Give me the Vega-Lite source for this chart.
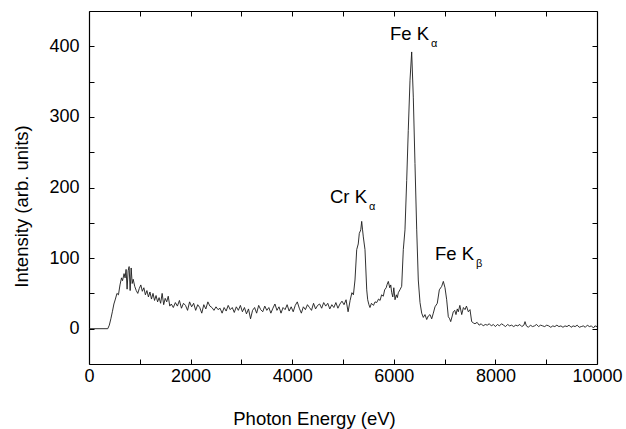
{
  "$schema": "https://vega.github.io/schema/vega-lite/v6.json",
  "width": 508,
  "height": 353,
  "autosize": {"type": "none"},
  "padding": {"left": 89, "top": 11, "right": 29, "bottom": 65},
  "background": "white",
  "config": {
    "view": {"stroke": null},
    "font": "Liberation Sans",
    "axis": {
      "domainColor": "black", "domainWidth": 1.2, "tickColor": "black", "tickWidth": 1,
      "grid": false, "labelFont": "Liberation Sans", "labelFontSize": 18, "labelColor": "black",
      "titleFont": "Liberation Sans", "titleFontSize": 18.5, "titleFontWeight": "normal", "titleColor": "black",
      "labelFlush": false, "labelOverlap": false
    }
  },
  "datasets": {
    "spec": [
      {"e":0,"i":0},{"e":370,"i":0},{"e":400,"i":5},{"e":430,"i":14},{"e":460,"i":24},{"e":490,"i":35},{"e":520,"i":42},{"e":550,"i":50},{"e":580,"i":48},{"e":610,"i":62},{"e":640,"i":72},{"e":660,"i":68},{"e":690,"i":78},{"e":710,"i":72},{"e":730,"i":84},{"e":750,"i":56},{"e":770,"i":82},{"e":790,"i":88},{"e":810,"i":54},{"e":830,"i":86},{"e":850,"i":64},{"e":870,"i":70},{"e":900,"i":60},{"e":930,"i":54},{"e":960,"i":50},{"e":990,"i":57},{"e":1020,"i":62},{"e":1050,"i":53},{"e":1080,"i":58},{"e":1110,"i":48},{"e":1140,"i":54},{"e":1170,"i":45},{"e":1200,"i":52},{"e":1230,"i":42},{"e":1260,"i":50},{"e":1290,"i":40},{"e":1320,"i":47},{"e":1350,"i":38},{"e":1380,"i":44},{"e":1410,"i":36},{"e":1440,"i":50},{"e":1470,"i":34},{"e":1500,"i":43},{"e":1530,"i":38},{"e":1560,"i":46},{"e":1590,"i":32},{"e":1620,"i":35},{"e":1660,"i":30},{"e":1700,"i":37},{"e":1740,"i":32},{"e":1780,"i":40},{"e":1820,"i":29},{"e":1860,"i":36},{"e":1900,"i":33},{"e":1940,"i":26},{"e":1980,"i":38},
      {"e":2020,"i":31},{"e":2060,"i":36},{"e":2100,"i":26},{"e":2140,"i":34},{"e":2180,"i":30},{"e":2220,"i":22},{"e":2260,"i":34},{"e":2300,"i":28},{"e":2340,"i":38},{"e":2380,"i":32},{"e":2420,"i":30},{"e":2460,"i":26},{"e":2500,"i":31},{"e":2540,"i":27},{"e":2580,"i":29},{"e":2620,"i":22},{"e":2660,"i":30},{"e":2700,"i":25},{"e":2740,"i":33},{"e":2780,"i":27},{"e":2820,"i":30},{"e":2860,"i":23},{"e":2900,"i":31},{"e":2940,"i":26},{"e":2980,"i":33},{"e":3020,"i":24},{"e":3060,"i":30},{"e":3100,"i":21},{"e":3140,"i":28},{"e":3180,"i":14},{"e":3220,"i":26},{"e":3260,"i":30},{"e":3300,"i":22},{"e":3340,"i":33},{"e":3380,"i":27},{"e":3420,"i":24},{"e":3460,"i":32},{"e":3500,"i":26},{"e":3540,"i":30},{"e":3580,"i":22},{"e":3620,"i":29},{"e":3660,"i":35},{"e":3700,"i":26},{"e":3740,"i":31},{"e":3780,"i":22},{"e":3820,"i":30},{"e":3860,"i":27},{"e":3900,"i":34},{"e":3940,"i":25},{"e":3980,"i":31},
      {"e":4020,"i":24},{"e":4060,"i":33},{"e":4100,"i":38},{"e":4140,"i":29},{"e":4180,"i":22},{"e":4220,"i":31},{"e":4260,"i":27},{"e":4300,"i":34},{"e":4340,"i":30},{"e":4380,"i":26},{"e":4420,"i":36},{"e":4460,"i":28},{"e":4500,"i":33},{"e":4540,"i":35},{"e":4580,"i":29},{"e":4620,"i":37},{"e":4660,"i":32},{"e":4700,"i":36},{"e":4740,"i":28},{"e":4780,"i":34},{"e":4820,"i":30},{"e":4860,"i":37},{"e":4900,"i":29},{"e":4940,"i":35},{"e":4980,"i":39},{"e":5020,"i":34},{"e":5060,"i":41},{"e":5100,"i":24},{"e":5140,"i":40},{"e":5175,"i":51},{"e":5205,"i":48},{"e":5236,"i":69},{"e":5270,"i":112},{"e":5300,"i":120},{"e":5321,"i":135},{"e":5350,"i":140},{"e":5368,"i":152},{"e":5385,"i":140},{"e":5400,"i":130},{"e":5433,"i":112},{"e":5467,"i":55},{"e":5486,"i":41},{"e":5510,"i":34},{"e":5531,"i":30},{"e":5560,"i":36},{"e":5600,"i":33},{"e":5630,"i":38},{"e":5663,"i":37},{"e":5700,"i":42},{"e":5730,"i":40},{"e":5760,"i":48},{"e":5793,"i":46},{"e":5820,"i":55},{"e":5850,"i":58},{"e":5870,"i":63},{"e":5892,"i":67},{"e":5920,"i":58},{"e":5940,"i":62},{"e":5959,"i":51},{"e":5980,"i":45},{"e":6000,"i":58},{"e":6024,"i":41},{"e":6050,"i":48},{"e":6070,"i":44},{"e":6089,"i":51},{"e":6120,"i":55},{"e":6155,"i":60},{"e":6187,"i":112},{"e":6220,"i":140},{"e":6254,"i":210},{"e":6285,"i":281},{"e":6319,"i":352},{"e":6352,"i":392},{"e":6384,"i":328},{"e":6417,"i":234},{"e":6451,"i":140},{"e":6482,"i":69},{"e":6516,"i":37},{"e":6549,"i":22},{"e":6581,"i":16},{"e":6614,"i":20},{"e":6648,"i":13},{"e":6679,"i":18},{"e":6713,"i":20},{"e":6746,"i":14},{"e":6778,"i":22},{"e":6811,"i":31},{"e":6856,"i":36},{"e":6896,"i":55},{"e":6943,"i":60},{"e":6975,"i":67},{"e":7008,"i":58},{"e":7041,"i":41},{"e":7073,"i":17},{"e":7100,"i":14},{"e":7120,"i":10},{"e":7150,"i":18},{"e":7171,"i":24},{"e":7200,"i":26},{"e":7224,"i":20},{"e":7250,"i":28},{"e":7270,"i":24},{"e":7300,"i":33},{"e":7337,"i":20},{"e":7370,"i":30},{"e":7402,"i":27},{"e":7430,"i":32},{"e":7467,"i":24},{"e":7500,"i":27},{"e":7533,"i":10},{"e":7570,"i":8},{"e":7598,"i":7},{"e":7640,"i":9},{"e":7680,"i":5},{"e":7720,"i":7},{"e":7760,"i":4},{"e":7800,"i":6},{"e":7840,"i":5},{"e":7880,"i":7},{"e":7920,"i":4},{"e":7960,"i":6},{"e":8000,"i":3},{"e":8040,"i":6},{"e":8080,"i":4},{"e":8120,"i":7},{"e":8160,"i":5},{"e":8200,"i":3},{"e":8240,"i":6},{"e":8280,"i":4},{"e":8320,"i":5},{"e":8360,"i":3},{"e":8400,"i":5},{"e":8440,"i":4},{"e":8480,"i":6},{"e":8520,"i":3},{"e":8560,"i":5},{"e":8583,"i":10},{"e":8610,"i":4},{"e":8650,"i":2},{"e":8690,"i":5},{"e":8730,"i":3},{"e":8770,"i":4},{"e":8810,"i":6},{"e":8850,"i":3},{"e":8890,"i":5},{"e":8930,"i":4},{"e":8970,"i":3},{"e":9010,"i":5},{"e":9050,"i":4},{"e":9090,"i":2},{"e":9130,"i":4},{"e":9170,"i":3},{"e":9210,"i":5},{"e":9250,"i":3},{"e":9290,"i":4},{"e":9330,"i":2},{"e":9370,"i":4},{"e":9410,"i":3},{"e":9450,"i":5},{"e":9490,"i":2},{"e":9530,"i":4},{"e":9570,"i":3},{"e":9610,"i":5},{"e":9650,"i":2},{"e":9690,"i":3},{"e":9730,"i":4},{"e":9770,"i":2},{"e":9810,"i":5},{"e":9850,"i":3},{"e":9890,"i":4},{"e":9930,"i":1},{"e":9960,"i":4},{"e":10000,"i":3}
    ],
    "notes": [
      {"t":"Fe K","e":5925,"v":409,"s":"main"},
      {"t":"α","e":6732,"v":399,"s":"sub"},
      {"t":"Cr K","e":4744,"v":178,"s":"main"},
      {"t":"α","e":5512,"v":168,"s":"sub"},
      {"t":"Fe K","e":6811,"v":97,"s":"main"},
      {"t":"β","e":7618,"v":87,"s":"sub"}
    ]
  },
  "layer": [
    {
      "data": {"name": "spec"},
      "mark": {"type": "line", "color": "#1a1a1a", "strokeWidth": 0.9, "clip": true},
      "encoding": {
        "x": {"field": "e", "type": "quantitative", "scale": {"domain": [0, 10000], "nice": false, "zero": false},
          "axis": {"orient": "bottom", "values": [0,1000,2000,3000,4000,5000,6000,7000,8000,9000,10000], "format": "d",
            "labelExpr": "datum.value % 2000 === 0 ? datum.label : ''",
            "tickSize": -5,
            "encode": {"ticks": {"update": {"y2": {"signal": "datum.value % 2000 === 0 ? -6 : -3"}}}},
            "labelPadding": 8,
            "title": "Photon Energy (eV)", "titleX": 225, "titleY": 60, "titleBaseline": "alphabetic", "titleAlign": "center"}},
        "y": {"field": "i", "type": "quantitative", "scale": {"domain": [-50, 450], "nice": false, "zero": false},
          "axis": {"orient": "left", "values": [0,50,100,150,200,250,300,350,400],
            "labelExpr": "datum.value % 100 === 0 ? datum.label : ''",
            "tickSize": -5,
            "encode": {"ticks": {"update": {"x2": {"signal": "datum.value % 100 === 0 ? 6 : 3"}}}},
            "labelPadding": 15,
            "title": "Intensity (arb. units)", "titleX": -62, "titleY": 195, "titleAngle": -90, "titleBaseline": "alphabetic", "titleAlign": "center"}}
      }
    },
    {
      "data": {"name": "notes"},
      "transform": [{"filter": "datum.s === 'main'"}],
      "mark": {"type": "text", "fontSize": 18.5, "font": "Liberation Sans", "align": "left", "baseline": "alphabetic", "color": "black"},
      "encoding": {
        "x": {"field": "e", "type": "quantitative",
          "axis": {"orient": "top", "values": [0,1000,2000,3000,4000,5000,6000,7000,8000,9000,10000], "labels": false, "title": null,
            "tickSize": -5,
            "encode": {"ticks": {"update": {"y2": {"signal": "datum.value % 2000 === 0 ? 6 : 3"}}}}}},
        "y": {"field": "v", "type": "quantitative",
          "axis": {"orient": "right", "values": [0,50,100,150,200,250,300,350,400], "labels": false, "title": null,
            "tickSize": -5,
            "encode": {"ticks": {"update": {"x2": {"signal": "datum.value % 100 === 0 ? -6 : -3"}}}}}},
        "text": {"field": "t"}
      }
    },
    {
      "data": {"name": "notes"},
      "transform": [{"filter": "datum.s === 'sub'"}],
      "mark": {"type": "text", "fontSize": 11, "font": "Liberation Sans", "align": "left", "baseline": "alphabetic", "color": "black"},
      "encoding": {
        "x": {"field": "e", "type": "quantitative", "axis": null},
        "y": {"field": "v", "type": "quantitative", "axis": null},
        "text": {"field": "t"}
      }
    }
  ],
  "resolve": {"axis": {"x": "independent", "y": "independent"}}
}
